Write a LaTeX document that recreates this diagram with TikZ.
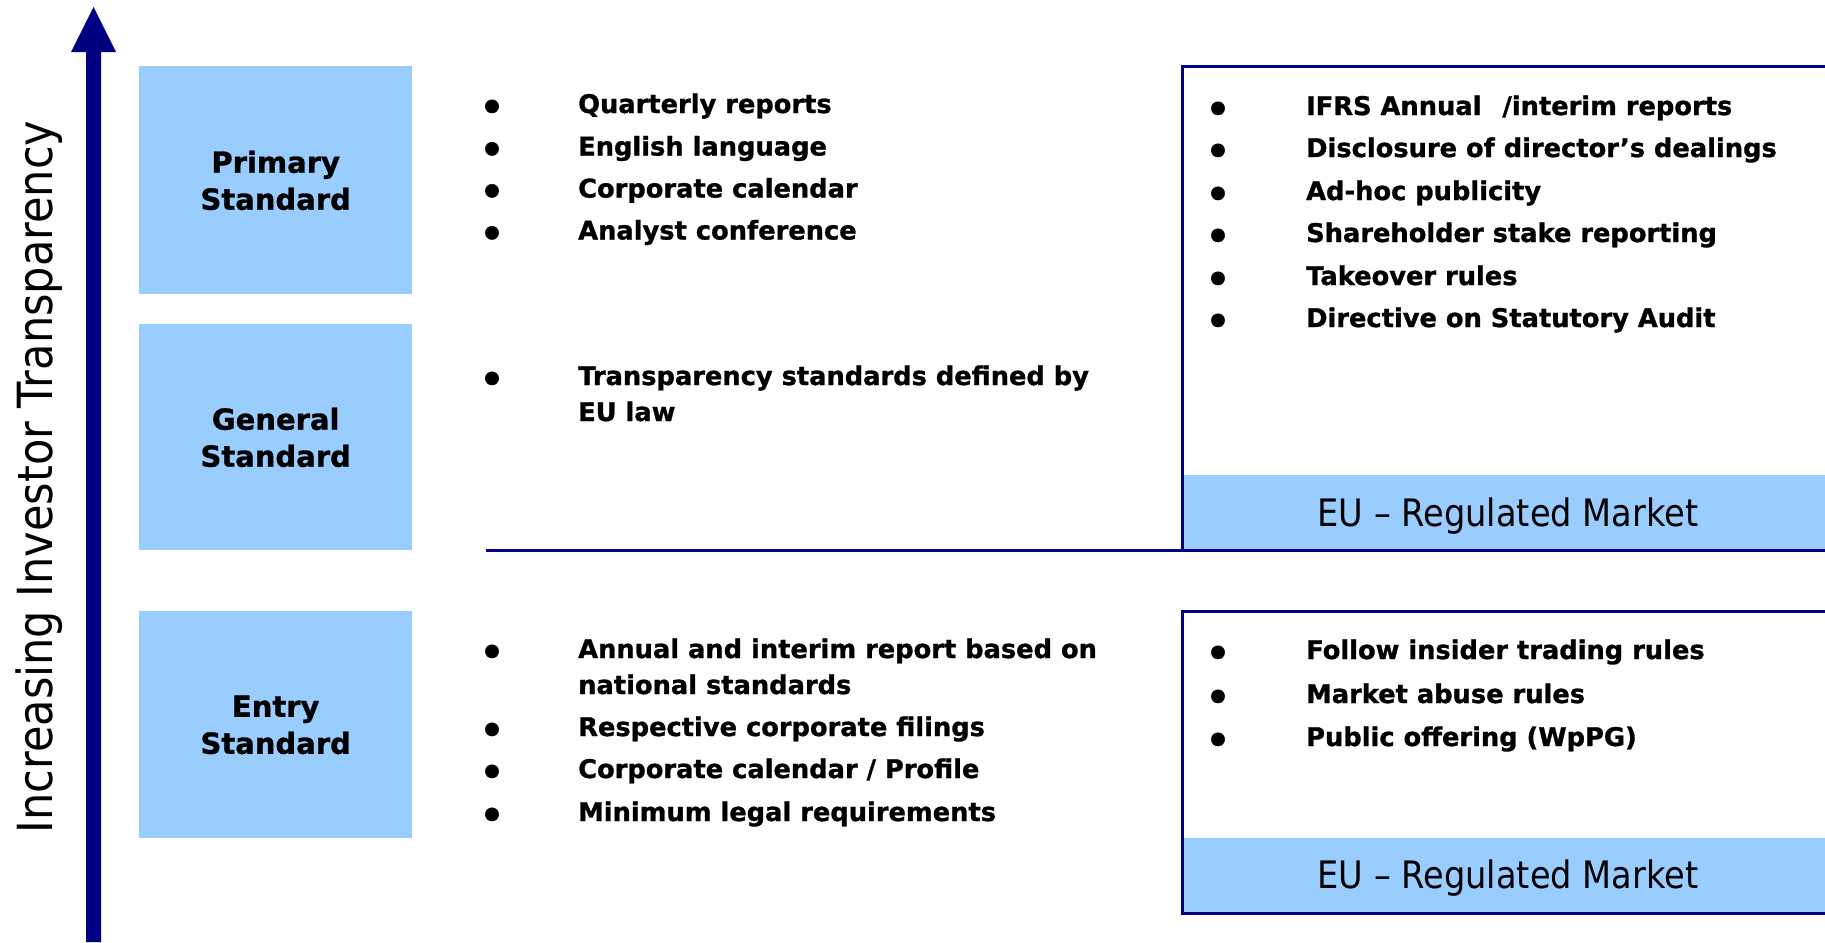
\documentclass[tikz,border=0pt]{standalone}
\usepackage{fontspec}
\setmainfont{DejaVu Sans}[BoldFeatures={FakeBold=1.1}]
\newfontfamily\regfont{DejaVu Sans}[FakeStretch=0.89]
\definecolor{navyc}{RGB}{0,0,128}
\definecolor{lblue}{RGB}{153,204,255}
\tikzset{
  stdbox/.style={fill=lblue, draw=none, minimum width=273bp, anchor=north west,
    font=\bfseries\fontsize{29bp}{37bp}\selectfont, align=center, inner sep=0},
  item/.style={font=\bfseries\fontsize{25.7bp}{36bp}\selectfont, anchor=base west, inner sep=0},
  bul/.style={font=\bfseries\fontsize{38bp}{40bp}\selectfont, anchor=base, inner sep=0, yshift=-7.5bp},
  band/.style={fill=lblue, draw=none, anchor=north west, minimum width=643bp, minimum height=75bp, inner sep=0},
  bandtext/.style={font=\regfont\fontsize{37.8bp}{40bp}\selectfont, inner sep=0, anchor=base},
  frame/.style={draw=navyc, line width=3bp},
}
\begin{document}
\begin{tikzpicture}[x=1bp,y=-1bp]
\useasboundingbox (0,0) rectangle (1825,942);
\fill[white] (0,0) rectangle (1825,942);

% axis arrow
\fill[navyc] (86,942) -- (86,52) -- (71,52) -- (93.5,7) -- (116,52) -- (101,52) -- (101,942) -- cycle;
\node[rotate=90, inner sep=0, font=\regfont\fontsize{48.4bp}{50bp}\selectfont] (axis) at (39,477) {Increasing Investor Transparency};

% standard boxes
\node[stdbox, minimum height=228bp, text depth=-4bp] (primary) at (139,66) {Primary\\Standard};
\node[stdbox, minimum height=226bp, text depth=-4bp] (general) at (139,324) {General\\Standard};
\node[stdbox, minimum height=227bp, text depth=-4bp] (entry) at (139,611) {Entry\\Standard};

% right boxes
\node[band] (band1) at (1182,475) {};
\node[band] (band2) at (1182,838) {};
\node[bandtext] (band1t) at (1508,526) {EU – Regulated Market};
\node[bandtext] (band2t) at (1508,888) {EU – Regulated Market};
\coordinate (hl) at (486,550);
\coordinate (f1a) at (1825,66);
\coordinate (f1b) at (1182,66);
\coordinate (f1c) at (1182,550);
\coordinate (f1d) at (1825,550);
\draw[frame] (f1a) -- (f1b) -- (f1c);
\draw[frame] (hl) -- (f1d);
\coordinate (f2a) at (1825,611);
\coordinate (f2b) at (1182,611);
\coordinate (f2c) at (1182,913);
\coordinate (f2d) at (1825,913);
\draw[frame] (f2a) -- (f2b) -- (f2c) -- (f2d);

% primary items
\foreach \y/\t [count=\i] in {113/{Quarterly reports}, 155.5/{English language}, 197.5/{Corporate calendar}, 239.5/{Analyst conference}}{
  \node[bul] (pb\i) at (492,\y) {•};
  \node[item] (pi\i) at (578,\y) {\t};
}
% general items
\node[bul] (gb1) at (492,385) {•};
\node[item] (gi1) at (578,385) {Transparency standards defined by};
\node[item] (gi1b) at (578,421) {EU law};

% entry items
\node[bul] (eb1) at (492,658) {•};
\node[item] (ei1) at (578,658) {Annual and interim report based on};
\node[item] (ei1b) at (578,694) {national standards};
\foreach \y/\t [count=\i from 2] in {736/{Respective corporate filings}, 778/{Corporate calendar / Profile}, 821/{Minimum legal requirements}}{
  \node[bul] (eb\i) at (492,\y) {•};
  \node[item] (ei\i) at (578,\y) {\t};
}

% right upper items
\foreach \y/\t [count=\i] in {115/{IFRS Annual \hspace{12bp}/interim reports}, 157/{Disclosure of director’s dealings}, 200/{Ad-hoc publicity}, 242/{Shareholder stake reporting}, 285/{Takeover rules}, 327/{Directive on Statutory Audit}}{
  \node[bul] (rb\i) at (1218,\y) {•};
  \node[item] (ri\i) at (1306,\y) {\t};
}
% right lower items
\foreach \y/\t [count=\i] in {659/{Follow insider trading rules}, 703/{Market abuse rules}, 746/{Public offering (WpPG)}}{
  \node[bul] (lb\i) at (1218,\y) {•};
  \node[item] (li\i) at (1306,\y) {\t};
}
\end{tikzpicture}
\end{document}
